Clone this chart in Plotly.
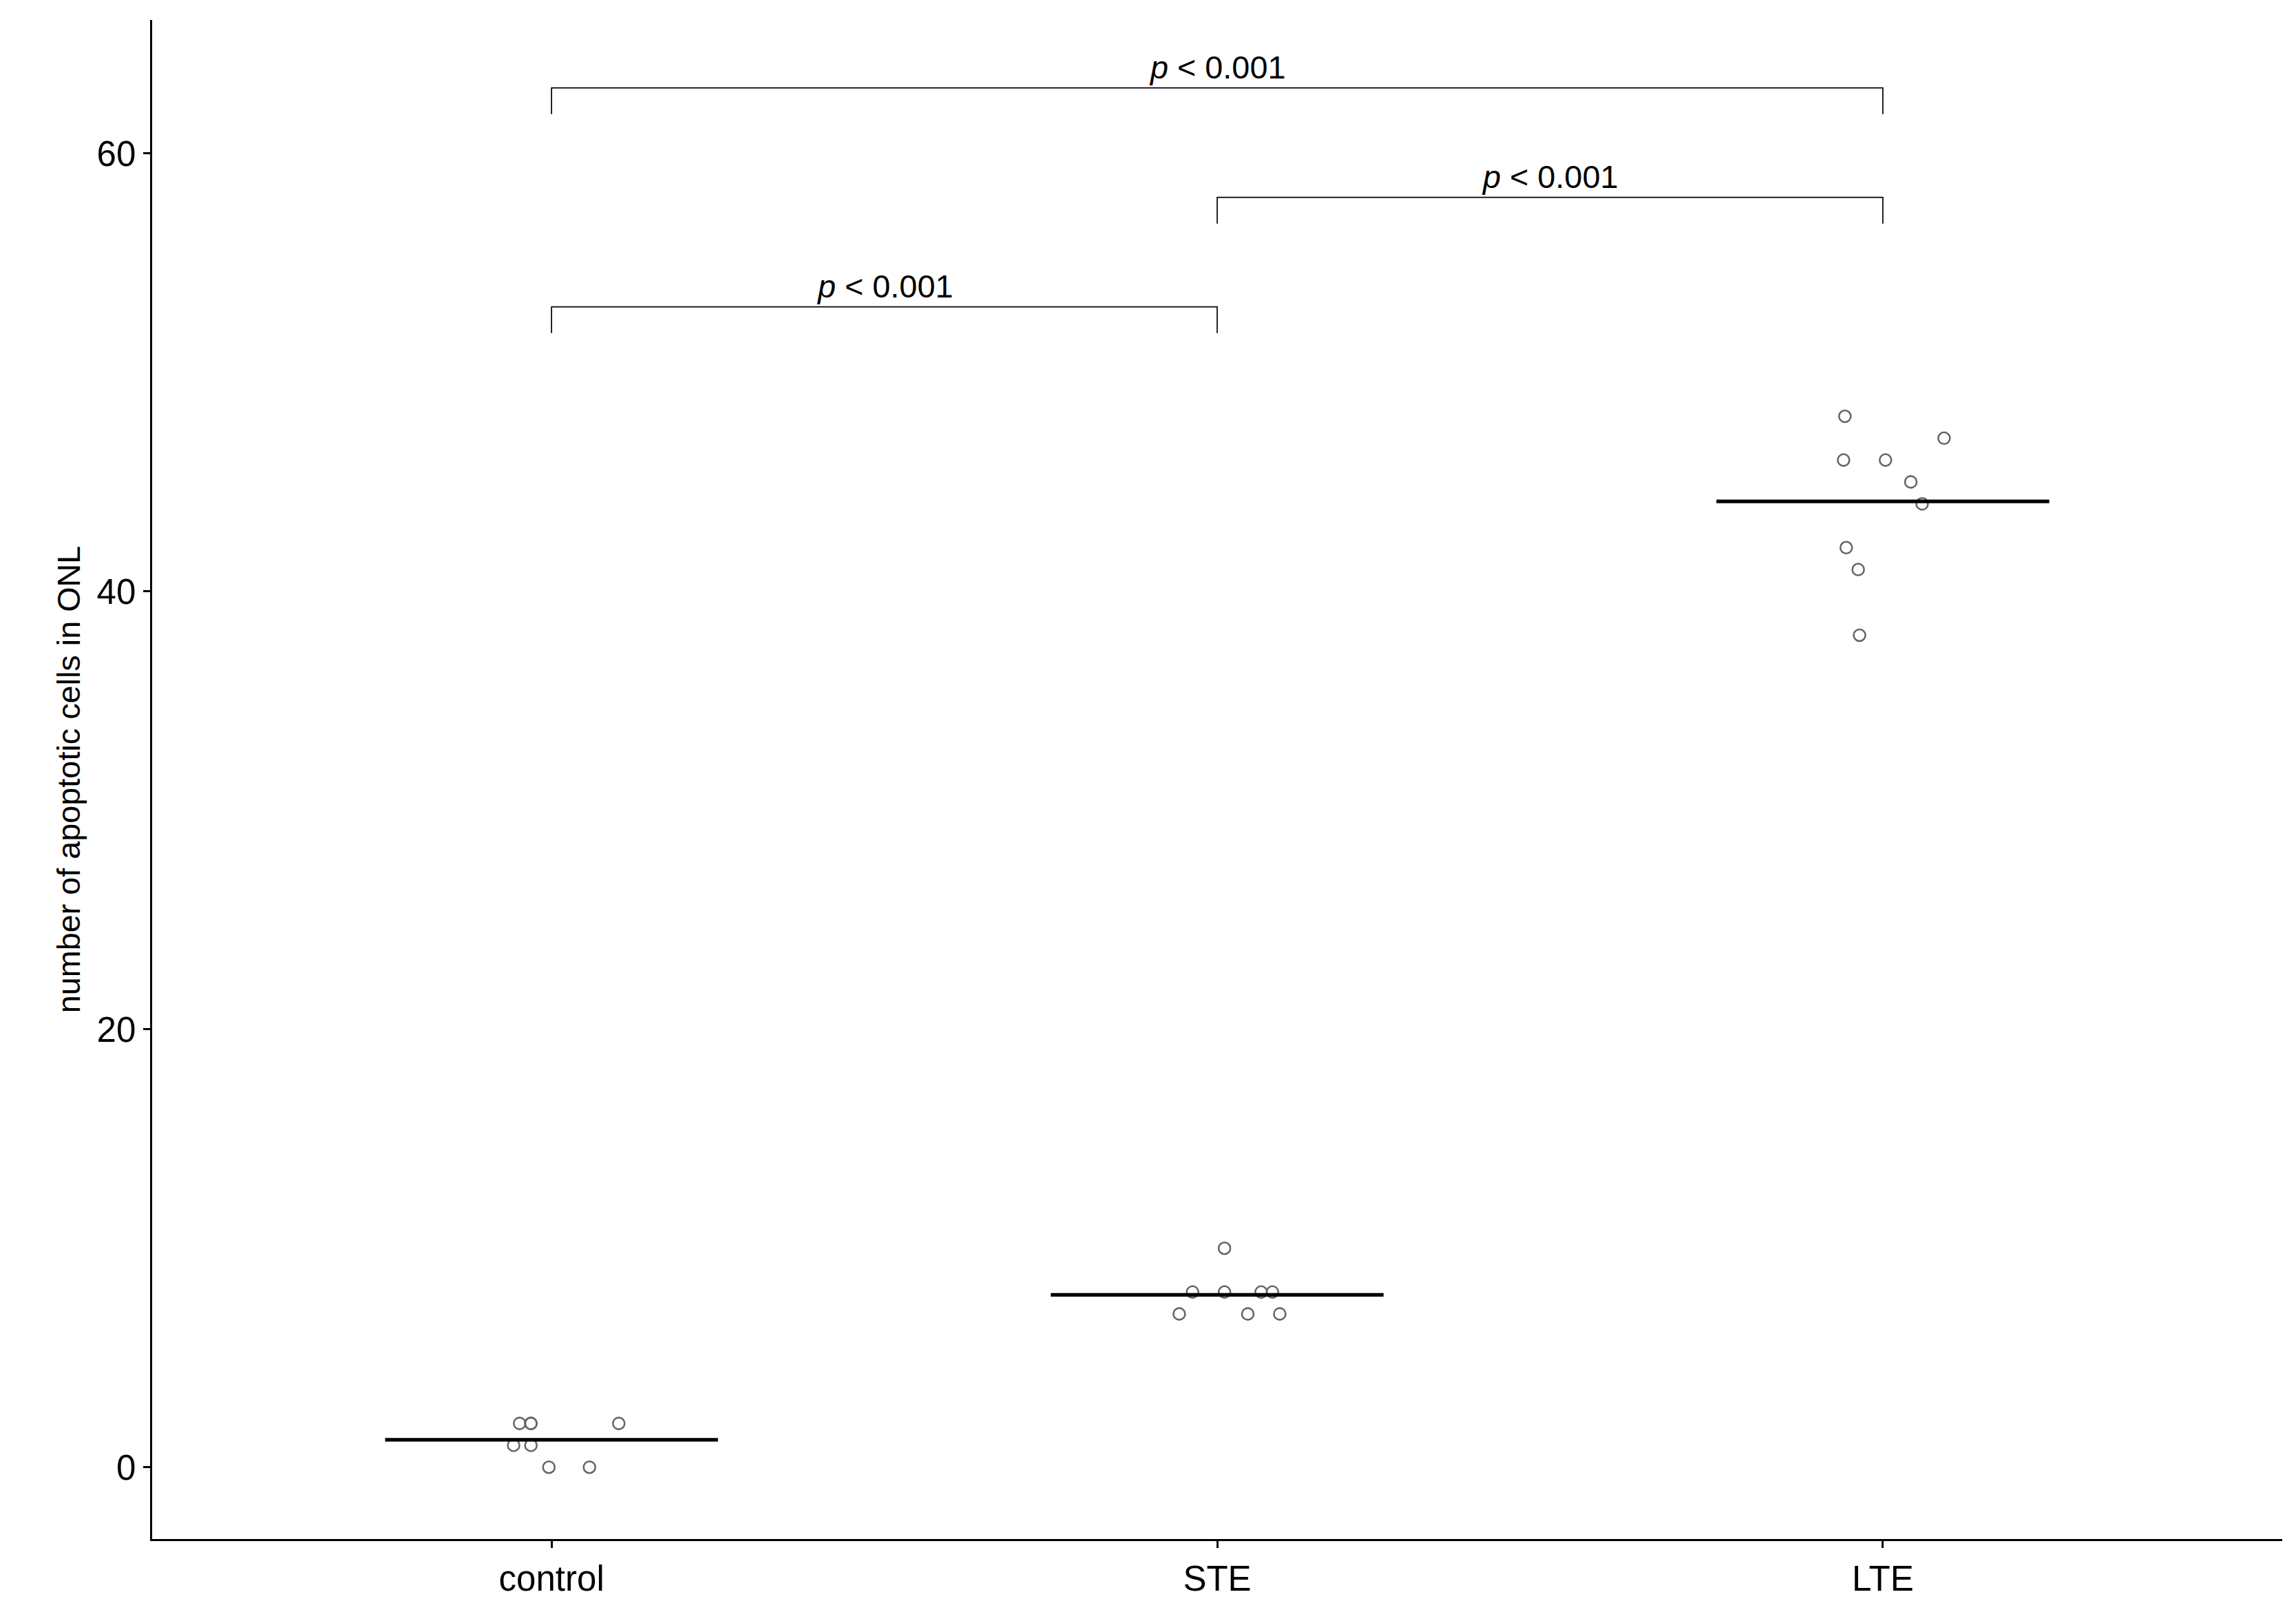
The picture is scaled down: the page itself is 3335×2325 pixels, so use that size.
import plotly.graph_objects as go

groups = ["control", "STE", "LTE"]
control_x = [-0.048, -0.031, 0.101, -0.057, -0.031, -0.004, 0.057, -0.031]
control_y = [2, 2, 2, 1, 1, 0, 0, 2]
ste_x = [0.011, -0.037, 0.011, 0.066, 0.083, -0.057, 0.046, 0.094]
ste_y = [10, 8, 8, 8, 8, 7, 7, 7]
lte_x = [-0.057, 0.092, -0.059, 0.004, 0.042, 0.059, -0.055, -0.037, -0.035]
lte_y = [48, 47, 46, 46, 45, 44, 42, 41, 38]
comparisons = [(1, 2, 53.0), (2, 3, 58.0), (1, 3, 63.0)]
p_label = "<i>p</i> < 0.001"

S = 2.127
fig = go.Figure()
for i, (xs, ys) in enumerate([(control_x, control_y), (ste_x, ste_y), (lte_x, lte_y)]):
    c = i + 1
    fig.add_trace(go.Scatter(x=[c + d for d in xs], y=ys, mode="markers",
                             marker=dict(symbol="circle-open", size=8 * S, color="#666666",
                                         line=dict(width=1.2 * S)),
                             showlegend=False))
    m = sum(ys) / len(ys)
    fig.add_trace(go.Scatter(x=[c - 0.25, c + 0.25], y=[m, m], mode="lines",
                             line=dict(color="black", width=2.5 * S), showlegend=False))

for a, b, h in comparisons:
    fig.add_trace(go.Scatter(x=[a, a, b, b], y=[h - 1.2, h, h, h - 1.2], mode="lines",
                             line=dict(color="black", width=0.8 * S), showlegend=False))
    fig.add_annotation(x=(a + b) / 2, y=h, text=p_label, showarrow=False, yanchor="bottom",
                       yshift=2, font=dict(size=22 * S, color="black", family="Liberation Sans"))

fig.update_layout(
    width=3335, height=2325, plot_bgcolor="white", paper_bgcolor="white",
    margin=dict(l=213, r=28, t=21, b=98),
    font=dict(family="Liberation Sans", color="black"),
)
fig.update_xaxes(range=[0.4, 3.6], tickvals=[1, 2, 3], ticktext=groups, showgrid=False,
                 zeroline=False, showline=True, linecolor="black", linewidth=1.2 * S,
                 ticks="outside", ticklen=5 * S, tickwidth=1.2 * S, tickcolor="black",
                 tickfont=dict(size=24 * S, color="black"))
fig.update_yaxes(range=[-3.28, 66.1], tickvals=[0, 20, 40, 60], showgrid=False,
                 zeroline=False, showline=True, linecolor="black", linewidth=1.2 * S,
                 ticks="outside", ticklen=5 * S, tickwidth=1.2 * S, tickcolor="black",
                 tickfont=dict(size=24 * S, color="black"),
                 title=dict(text="number of apoptotic cells in ONL", font=dict(size=22 * S), standoff=10))
fig.write_html("out.html")
